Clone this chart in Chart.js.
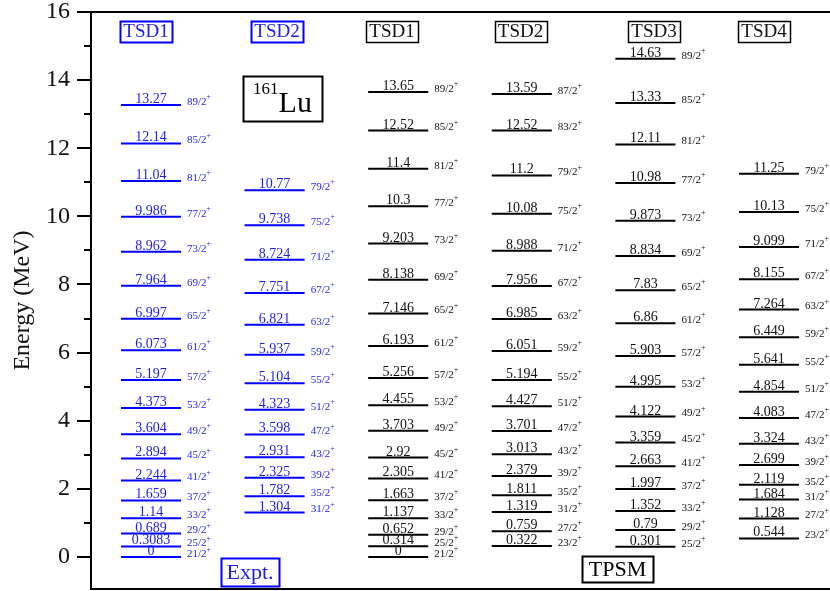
<!DOCTYPE html>
<html>
<head>
<meta charset="utf-8">
<script src="https://cdn.jsdelivr.net/npm/chart.js@4/dist/chart.umd.min.js"></script>
<style>
  html, body { margin: 0; padding: 0; background: #fff; }
</style>
</head>
<body>
<canvas id="levels" width="830" height="591"></canvas>
<script>
const exptTsd1Energy = [0, 0.3083, 0.689, 1.14, 1.659, 2.244, 2.894, 3.604, 4.373, 5.197, 6.073, 6.997, 7.964, 8.962, 9.986, 11.04, 12.14, 13.27];
const exptTsd1Spin   = ['21/2', '25/2', '29/2', '33/2', '37/2', '41/2', '45/2', '49/2', '53/2', '57/2', '61/2', '65/2', '69/2', '73/2', '77/2', '81/2', '85/2', '89/2'];

const exptTsd2Energy = [1.304, 1.782, 2.325, 2.931, 3.598, 4.323, 5.104, 5.937, 6.821, 7.751, 8.724, 9.738, 10.77];
const exptTsd2Spin   = ['31/2', '35/2', '39/2', '43/2', '47/2', '51/2', '55/2', '59/2', '63/2', '67/2', '71/2', '75/2', '79/2'];

const tpsmTsd1Energy = [0, 0.314, 0.652, 1.137, 1.663, 2.305, 2.92, 3.703, 4.455, 5.256, 6.193, 7.146, 8.138, 9.203, 10.3, 11.4, 12.52, 13.65];
const tpsmTsd1Spin   = ['21/2', '25/2', '29/2', '33/2', '37/2', '41/2', '45/2', '49/2', '53/2', '57/2', '61/2', '65/2', '69/2', '73/2', '77/2', '81/2', '85/2', '89/2'];

const tpsmTsd2Energy = [0.322, 0.759, 1.319, 1.811, 2.379, 3.013, 3.701, 4.427, 5.194, 6.051, 6.985, 7.956, 8.988, 10.08, 11.2, 12.52, 13.59];
const tpsmTsd2Spin   = ['23/2', '27/2', '31/2', '35/2', '39/2', '43/2', '47/2', '51/2', '55/2', '59/2', '63/2', '67/2', '71/2', '75/2', '79/2', '83/2', '87/2'];

const tpsmTsd3Energy = [0.301, 0.79, 1.352, 1.997, 2.663, 3.359, 4.122, 4.995, 5.903, 6.86, 7.83, 8.834, 9.873, 10.98, 12.11, 13.33, 14.63];
const tpsmTsd3Spin   = ['25/2', '29/2', '33/2', '37/2', '41/2', '45/2', '49/2', '53/2', '57/2', '61/2', '65/2', '69/2', '73/2', '77/2', '81/2', '85/2', '89/2'];

const tpsmTsd4Energy = [0.544, 1.128, 1.684, 2.119, 2.699, 3.324, 4.083, 4.854, 5.641, 6.449, 7.264, 8.155, 9.099, 10.13, 11.25];
const tpsmTsd4Spin   = ['23/2', '27/2', '31/2', '35/2', '39/2', '43/2', '47/2', '51/2', '55/2', '59/2', '63/2', '67/2', '71/2', '75/2', '79/2'];

const bandNames = ['TSD1', 'TSD2', 'TSD1', 'TSD2', 'TSD3', 'TSD4'];
const yMajorTicks = [0, 2, 4, 6, 8, 10, 12, 14, 16];
const yMinorTicks = [1, 3, 5, 7, 9, 11, 13, 15];

// ---- layout / style ----
const SERIF = "'Liberation Serif', 'Times New Roman', serif";
const BLUE = '#0000ff';
const BLUE_TEXT = '#1e1ee8';
const BLACK = '#000';
const HALF = 0.243;             // half length of a level line, in column units
const X_MIN = -0.4854, X_MAX = 5.4935;
const Y_MIN = -0.94, Y_MAX = 16;
const headerShift = [-0.04, 0.02, -0.05, -0.01, 0.07, -0.04];

const columns = [
  { energy: exptTsd1Energy, spin: exptTsd1Spin, line: BLUE, text: BLUE_TEXT },
  { energy: exptTsd2Energy, spin: exptTsd2Spin, line: BLUE, text: BLUE_TEXT },
  { energy: tpsmTsd1Energy, spin: tpsmTsd1Spin, line: BLACK, text: '#111' },
  { energy: tpsmTsd2Energy, spin: tpsmTsd2Spin, line: BLACK, text: '#111' },
  { energy: tpsmTsd3Energy, spin: tpsmTsd3Spin, line: BLACK, text: '#111' },
  { energy: tpsmTsd4Energy, spin: tpsmTsd4Spin, line: BLACK, text: '#111' }
];

const datasets = [];
columns.forEach((col, ci) => {
  col.energy.forEach(e => {
    datasets.push({
      data: [{ x: ci - HALF, y: e }, { x: ci + HALF, y: e }],
      borderColor: col.line,
      borderWidth: 2,
      pointRadius: 0,
      showLine: true,
      fill: false
    });
  });
});

function box(ctx, cx, cy, w, h, color, lw) {
  ctx.save();
  ctx.strokeStyle = color;
  ctx.lineWidth = lw;
  ctx.strokeRect(Math.round(cx - w / 2) + 0.5, Math.round(cy - h / 2) + 0.5, w, h);
  ctx.restore();
}

const framePlugin = {
  id: 'frame',
  beforeDatasetsDraw(chart) {
    const { ctx, chartArea: a, scales: { y } } = chart;
    ctx.save();
    ctx.strokeStyle = BLACK;
    ctx.lineWidth = 2;
    ctx.beginPath();
    ctx.moveTo(a.left, a.top); ctx.lineTo(a.right, a.top);
    ctx.moveTo(a.left, a.bottom); ctx.lineTo(a.right, a.bottom);
    // minor ticks
    yMinorTicks.forEach(v => {
      const py = Math.round(y.getPixelForValue(v));
      ctx.moveTo(a.left - 7, py); ctx.lineTo(a.left, py);
    });
    ctx.stroke();
    ctx.restore();
  }
};

const textPlugin = {
  id: 'levelText',
  afterDatasetsDraw(chart) {
    const { ctx, scales: { x, y } } = chart;
    ctx.save();
    columns.forEach((col, ci) => {
      const cx = x.getPixelForValue(ci);
      const xr = x.getPixelForValue(ci + HALF);
      ctx.fillStyle = col.text;
      // energy above each line
      ctx.font = '14px ' + SERIF;
      ctx.textAlign = 'center';
      ctx.textBaseline = 'alphabetic';
      col.energy.forEach(e => {
        ctx.fillText(String(e), cx, y.getPixelForValue(e) - 2);
      });
      // spin labels to the right, pushed apart where crowded
      let prev = -Infinity;
      for (let i = col.energy.length - 1; i >= 0; i--) {
        const py = Math.max(y.getPixelForValue(col.energy[i]) - 3, prev + 11);
        prev = py;
        ctx.textAlign = 'left';
        ctx.textBaseline = 'middle';
        ctx.font = '11px ' + SERIF;
        const s = col.spin[i];
        ctx.fillText(s, xr + 6, py);
        const w = ctx.measureText(s).width;
        ctx.font = '8px ' + SERIF;
        ctx.fillText('+', xr + 6 + w, py - 5);
      }
      // band header
      const hx = x.getPixelForValue(ci + headerShift[ci]);
      const hy = y.getPixelForValue(15.43);
      box(ctx, hx, hy, 52, 21, col.line, ci < 2 ? 2 : 1.5);
      ctx.font = '19px ' + SERIF;
      ctx.textAlign = 'center';
      ctx.textBaseline = 'middle';
      ctx.fillText(bandNames[ci], hx, hy + 1);
    });

    // nucleus label
    const nx = x.getPixelForValue(1.064), ny = y.getPixelForValue(13.46);
    box(ctx, nx, ny, 79, 45, BLACK, 2);
    ctx.fillStyle = BLACK;
    ctx.textAlign = 'left';
    ctx.textBaseline = 'alphabetic';
    ctx.font = '30px ' + SERIF;
    const luW = ctx.measureText('Lu').width;
    ctx.font = '17px ' + SERIF;
    const supW = ctx.measureText('161').width;
    const start = nx - (luW + supW) / 2;
    ctx.fillText('161', start, ny - 5);
    ctx.font = '30px ' + SERIF;
    ctx.fillText('Lu', start + supW, ny + 13);

    // Expt. / TPSM tags
    const ex = x.getPixelForValue(0.801), ey = y.getPixelForValue(-0.44);
    box(ctx, ex, ey, 58, 28, BLUE, 2);
    ctx.fillStyle = BLUE_TEXT;
    ctx.font = '22px ' + SERIF;
    ctx.textAlign = 'center';
    ctx.textBaseline = 'middle';
    ctx.fillText('Expt.', ex, ey + 1);

    const tx = x.getPixelForValue(3.774), ty = y.getPixelForValue(-0.35);
    box(ctx, tx, ty, 71, 26, BLACK, 2);
    ctx.fillStyle = BLACK;
    ctx.fillText('TPSM', tx, ty + 1);
    ctx.restore();
  }
};

new Chart(document.getElementById('levels'), {
  type: 'scatter',
  data: { datasets: datasets },
  options: {
    responsive: false,
    devicePixelRatio: 1,
    animation: false,
    layout: { padding: { top: 12, bottom: 2, left: 0, right: 0 } },
    plugins: { legend: { display: false }, tooltip: { enabled: false } },
    scales: {
      x: { type: 'linear', min: X_MIN, max: X_MAX, display: false },
      y: {
        min: Y_MIN,
        max: Y_MAX,
        afterBuildTicks: s => { s.ticks = yMajorTicks.map(v => ({ value: v })); },
        afterFit: s => { s.width = 91; s.paddingTop = 0; s.paddingBottom = 0; },
        ticks: { font: { family: SERIF, size: 24 }, color: '#111', padding: 7 },
        grid: { drawOnChartArea: false, drawTicks: true, tickLength: 14, color: BLACK, lineWidth: 2 },
        border: { display: true, color: BLACK, width: 2 },
        title: {
          display: true,
          text: 'Energy (MeV)',
          font: { family: SERIF, size: 24 },
          color: '#111',
          padding: { top: 8, bottom: 0 }
        }
      }
    }
  },
  plugins: [framePlugin, textPlugin]
});
</script>
</body>
</html>
